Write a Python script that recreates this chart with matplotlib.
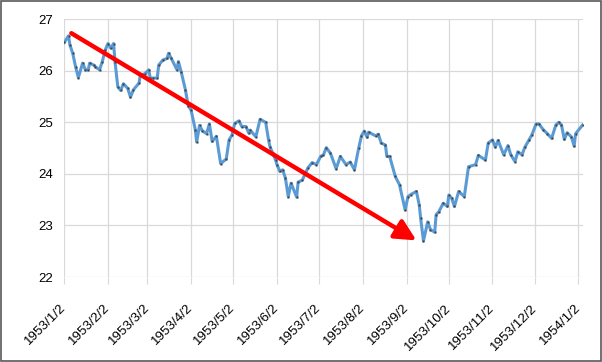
import matplotlib
matplotlib.use('Agg')
import matplotlib.pyplot as plt
import matplotlib.transforms as mtransforms
import matplotlib.patches as mpatches
import pandas as pd

# 日期和收盘价
dates = [
    '1953-01-02', '1953-01-05', '1953-01-06', '1953-01-08', '1953-01-10', '1953-01-12',
    '1953-01-15', '1953-01-17', '1953-01-19', '1953-01-20', '1953-01-23', '1953-01-24',
    '1953-01-27', '1953-01-29', '1953-01-31', '1953-02-02', '1953-02-04', '1953-02-06',
    '1953-02-07', '1953-02-09', '1953-02-11', '1953-02-13', '1953-02-16', '1953-02-18',
    '1953-02-20', '1953-02-24', '1953-02-25', '1953-02-28', '1953-03-03', '1953-03-04',
    '1953-03-06', '1953-03-09', '1953-03-10', '1953-03-13', '1953-03-16', '1953-03-17',
    '1953-03-19', '1953-03-23', '1953-03-24', '1953-03-26', '1953-03-29', '1953-03-31',
    '1953-04-02', '1953-04-05', '1953-04-06', '1953-04-08', '1953-04-10', '1953-04-13',
    '1953-04-15', '1953-04-17', '1953-04-20', '1953-04-23', '1953-04-27', '1953-04-29',
    '1953-05-01', '1953-05-03', '1953-05-06', '1953-05-08', '1953-05-11', '1953-05-13',
    '1953-05-14', '1953-05-18', '1953-05-21', '1953-05-25', '1953-05-27', '1953-05-28',
    '1953-05-30', '1953-06-01', '1953-06-02', '1953-06-04', '1953-06-06', '1953-06-08',
    '1953-06-10', '1953-06-12', '1953-06-16', '1953-06-17', '1953-06-20', '1953-06-24',
    '1953-06-27', '1953-06-30', '1953-07-03', '1953-07-05', '1953-07-07', '1953-07-10',
    '1953-07-14', '1953-07-17', '1953-07-21', '1953-07-24', '1953-07-27', '1953-07-30',
    '1953-08-01', '1953-08-03', '1953-08-05', '1953-08-06', '1953-08-11', '1953-08-13',
    '1953-08-15', '1953-08-18', '1953-08-19', '1953-08-21', '1953-08-25', '1953-08-28',
    '1953-09-01', '1953-09-03', '1953-09-05', '1953-09-09', '1953-09-11', '1953-09-12',
    '1953-09-14', '1953-09-17', '1953-09-19', '1953-09-22', '1953-09-23', '1953-09-25',
    '1953-09-28', '1953-10-01', '1953-10-02', '1953-10-04', '1953-10-06', '1953-10-09',
    '1953-10-13', '1953-10-16', '1953-10-21', '1953-10-23', '1953-10-28', '1953-10-30',
    '1953-11-02', '1953-11-04', '1953-11-06', '1953-11-10', '1953-11-13', '1953-11-15',
    '1953-11-18', '1953-11-20', '1953-11-23', '1953-11-25', '1953-11-28', '1953-11-30',
    '1953-12-03', '1953-12-05', '1953-12-08', '1953-12-11', '1953-12-14', '1953-12-17',
    '1953-12-19', '1953-12-21', '1953-12-23', '1953-12-25', '1953-12-28', '1953-12-30',
    '1953-12-31', '1954-01-05',
]
values = [
    26.55, 26.68, 26.50, 26.34, 26.08, 25.87,
    26.15, 26.02, 26.02, 26.15, 26.11, 26.08,
    26.02, 26.18, 26.40, 26.53, 26.44, 26.53,
    26.18, 25.69, 25.62, 25.75, 25.66, 25.49,
    25.63, 25.76, 25.92, 25.94, 26.02, 25.86,
    25.86, 25.86, 26.11, 26.21, 26.24, 26.34,
    26.24, 26.02, 26.18, 25.98, 25.63, 25.32,
    25.24, 24.86, 24.62, 24.94, 24.84, 24.78,
    24.97, 24.63, 24.73, 24.20, 24.29, 24.66,
    24.75, 24.98, 25.03, 24.92, 24.92, 24.79,
    24.85, 24.72, 25.06, 25.00, 24.66, 24.53,
    24.40, 24.27, 24.18, 24.05, 24.08, 23.92,
    23.56, 23.82, 23.55, 23.84, 23.88, 24.12,
    24.22, 24.18, 24.34, 24.37, 24.51, 24.40,
    24.10, 24.34, 24.18, 24.23, 24.08, 24.50,
    24.74, 24.83, 24.71, 24.81, 24.74, 24.77,
    24.60, 24.56, 24.34, 24.34, 23.95, 23.79,
    23.30, 23.56, 23.60, 23.66, 23.40, 23.14,
    22.70, 23.07, 22.92, 22.87, 23.21, 23.27,
    23.43, 23.37, 23.59, 23.53, 23.37, 23.66,
    23.56, 24.14, 24.18, 24.36, 24.27, 24.60,
    24.66, 24.52, 24.65, 24.37, 24.55, 24.37,
    24.24, 24.43, 24.37, 24.52, 24.66, 24.76,
    24.97, 24.97, 24.86, 24.78, 24.69, 24.95,
    25.00, 24.95, 24.67, 24.80, 24.72, 24.54,
    24.78, 24.95,
]

# 趋势箭头的起点和终点
arrow_start = ('1953-01-07', 26.73)
arrow_end = ('1953-09-09', 22.71)

tick_dates = pd.date_range('1953-01-02', periods=13, freq=pd.DateOffset(months=1))
y_ticks = [22, 23, 24, 25, 26, 27]

plt.rcParams['font.family'] = ['Liberation Sans', 'DejaVu Sans']

fig = plt.figure(figsize=(6.02, 3.62), dpi=100)
ax = fig.add_axes([0.1068, 0.2348, 0.861, 0.7119])

x = pd.to_datetime(dates)
ax.plot(x, values, color='#5B9BD5', lw=2.2, zorder=3)
ax.plot(x, values, ls='none', marker='s', ms=1.6, mfc='#404040', mec='none', zorder=4)

# 红色趋势箭头
ax.annotate('', xy=(pd.Timestamp(arrow_end[0]), arrow_end[1]),
            xytext=(pd.Timestamp(arrow_start[0]), arrow_start[1]),
            arrowprops=dict(arrowstyle='-|>,head_length=0.9,head_width=0.45',
                            color='#FF0000', lw=3.2, shrinkA=0, shrinkB=0,
                            mutation_scale=14),
            zorder=5)

ax.set_xlim(pd.Timestamp('1953-01-02'), pd.Timestamp('1954-01-05'))
ax.set_ylim(22, 27)
ax.set_yticks(y_ticks)
ax.set_yticklabels([str(v) for v in y_ticks], fontsize=9.5)
ax.set_xticks(tick_dates)
ax.set_xticklabels([f'{d.year}/{d.month}/{d.day}' for d in tick_dates], fontsize=9.6,
                   rotation=45, ha='right', va='center', rotation_mode='anchor')

offset = mtransforms.ScaledTranslation(9 / 100, 0, fig.dpi_scale_trans)
for lab in ax.get_xticklabels():
    lab.set_transform(lab.get_transform() + offset)

ax.grid(True, color='#D9D9D9', lw=0.9)
ax.set_axisbelow(True)
for s in ax.spines.values():
    s.set_visible(False)
ax.tick_params(axis='x', length=5, color='#D9D9D9', pad=16)
ax.tick_params(axis='y', length=0, pad=8)

# 外边框
fig.patches.append(mpatches.Rectangle((0.001, 0.002), 0.997, 0.995, transform=fig.transFigure,
                                      fill=False, ec='#595959', lw=1.2))

fig.savefig('out.png', dpi=100)
